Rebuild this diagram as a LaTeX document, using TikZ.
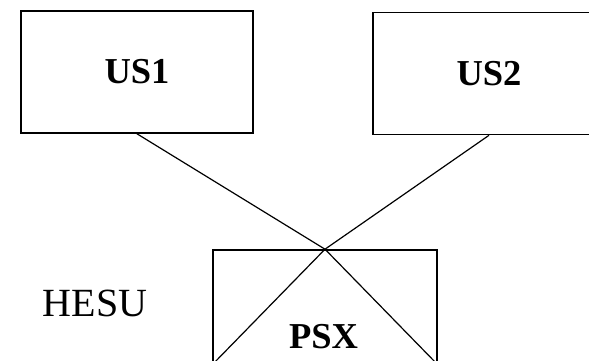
\documentclass[tikz,border=0pt]{standalone}
\usepackage{fontspec}
\setmainfont{Liberation Serif}
\begin{document}
\begin{tikzpicture}[x=1pt,y=1pt,
  boxnode/.style={draw=black, line width=1.6pt, rectangle, inner sep=0pt},
  boldlbl/.style={font=\fontsize{36.5}{40}\selectfont\bfseries, inner sep=0pt},
  plainlbl/.style={font=\fontsize{40}{44}\selectfont, inner sep=0pt},
  wire/.style={draw=black, line width=1.2pt}]
\clip (0,0) rectangle (589,360);
\node[boxnode, minimum width=232pt, minimum height=122pt, boldlbl] (us1) at (137,288) {US1};
\node[boxnode, minimum width=232pt, minimum height=122pt, boldlbl] (us2) at (489,286.5) {US2};
\node[boxnode, minimum width=224pt, minimum height=114pt] (psx) at (325,53) {};
\node[boldlbl, anchor=base] (psxlbl) at (323.5,12) {PSX};
\node[plainlbl, anchor=base] (hesu) at (95,44) {HESU};
\draw[wire] (us1.south) -- (psx.north);
\draw[wire] (us2.south) -- (psx.north);
\draw[wire] (psx.north) -- (psx.south west);
\draw[wire] (psx.north) -- (psx.south east);
\end{tikzpicture}
\end{document}
